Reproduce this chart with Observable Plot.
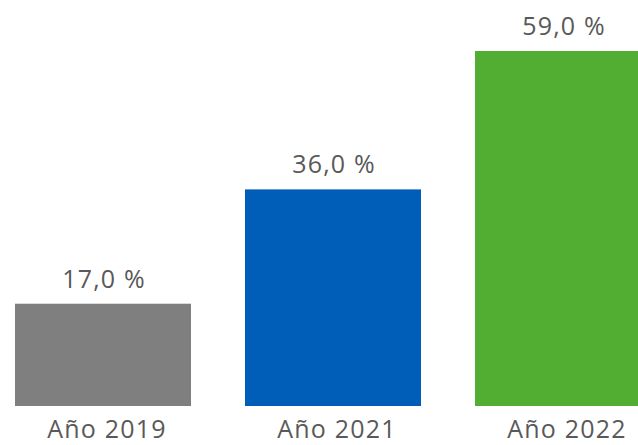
<!DOCTYPE html>
<html>
<head>
<meta charset="utf-8">
<script src="https://cdn.jsdelivr.net/npm/d3@7"></script>
<script src="https://cdn.jsdelivr.net/npm/@observablehq/plot@0.6"></script>
<style>
  html, body { margin: 0; padding: 0; background: #fff; overflow: hidden; }
  svg text { letter-spacing: 1.2px; }
</style>
</head>
<body>
<div id="chart"></div>
<script>
const categories = ["Año 2019", "Año 2021", "Año 2022"];
const values = [17.0, 36.0, 59.0];
const valueLabels = ["17,0 %", "36,0 %", "59,0 %"];
const colors = ["#7f7f7f", "#005eb8", "#52ae32"];

const data = categories.map((c, i) => ({cat: c, value: values[i], label: valueLabels[i], color: colors[i]}));

const font = "'Open Sans', 'Noto Sans', sans-serif";

const chart = Plot.plot({
  width: 638,
  height: 445,
  marginTop: 51,
  marginBottom: 39,
  marginLeft: 0,
  marginRight: 0,
  style: {fontFamily: font, overflow: "hidden", background: "#fff"},
  x: {domain: categories, range: [15, 651], paddingInner: 54 / 230, paddingOuter: 0, axis: null},
  y: {domain: [0, 59], axis: null},
  marks: [
    Plot.barY(data, {x: "cat", y: "value", fill: "color"}),
    Plot.text(data, {x: "cat", y: "value", text: "label", lineAnchor: "bottom", dy: -16.5, dx: 0.5, fontSize: 25, fill: "#595959"}),
    Plot.text(data, {x: "cat", y: 0, text: "cat", lineAnchor: "bottom", dy: 31, dx: 3.5, fontSize: 25, fill: "#595959"})
  ]
});
document.getElementById("chart").append(chart);
</script>
</body>
</html>
